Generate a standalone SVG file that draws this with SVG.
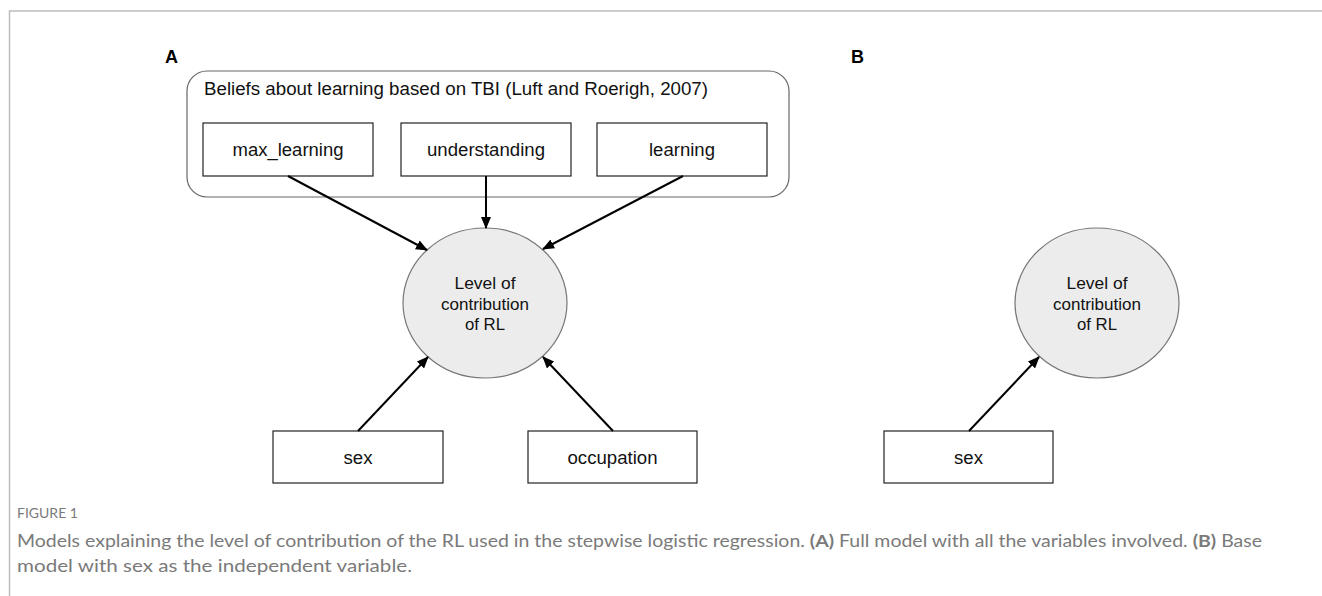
<svg xmlns="http://www.w3.org/2000/svg" width="1322" height="596" viewBox="0 0 1322 596">
<style>
.lbl{font-family:"Liberation Sans",Arial,sans-serif;font-size:17.5px;fill:#111;text-anchor:middle}
.cl{font-family:"Liberation Sans",Arial,sans-serif;font-size:16.5px;fill:#111;text-anchor:middle}
.pl{font-family:"Liberation Sans",Arial,sans-serif;font-size:18px;font-weight:bold;fill:#000}
.box{fill:#fff;stroke:#222;stroke-width:1.2}
.ell{fill:#ececec;stroke:#777;stroke-width:1.2}
.con{stroke:#000;stroke-width:2;fill:none;marker-end:url(#ah)}
.cap{font-family:Lato,"Open Sans",sans-serif;fill:#7a7a7a}
</style>
<defs>
<marker id="ah" markerUnits="userSpaceOnUse" markerWidth="12" markerHeight="10" refX="11" refY="5" orient="auto">
<path d="M0,0 L12,5 L0,10 z" fill="#000"/>
</marker>
</defs>
<rect width="1322" height="596" fill="#fff"/>
<path d="M9.5,596 V11 H1322" fill="none" stroke="#bdbdbd" stroke-width="1.5"/>
<text class="pl" x="165" y="63">A</text>
<text class="pl" x="851" y="63">B</text>
<g id="group-beliefs">
<rect x="187" y="71" width="602" height="126" rx="20" ry="20" fill="#fff" stroke="#666" stroke-width="1.2"/>
<text class="lbl" x="204" y="95" style="text-anchor:start" textLength="504" lengthAdjust="spacingAndGlyphs">Beliefs about learning based on TBI (Luft and Roerigh, 2007)</text>
</g>
<g id="node-max-learning"><rect class="box" x="203" y="123" width="170" height="53"/><text class="lbl" x="288" y="156" textLength="111" lengthAdjust="spacingAndGlyphs">max_learning</text></g>
<g id="node-understanding"><rect class="box" x="401" y="123" width="170" height="53"/><text class="lbl" x="486" y="156" textLength="118" lengthAdjust="spacingAndGlyphs">understanding</text></g>
<g id="node-learning"><rect class="box" x="597" y="123" width="170" height="53"/><text class="lbl" x="682" y="156" textLength="66" lengthAdjust="spacingAndGlyphs">learning</text></g>
<g id="node-level-a"><ellipse class="ell" cx="485" cy="303" rx="82" ry="75"/>
<text class="cl" x="485" y="289" textLength="61" lengthAdjust="spacingAndGlyphs">Level of</text>
<text class="cl" x="485" y="310" textLength="88" lengthAdjust="spacingAndGlyphs">contribution</text>
<text class="cl" x="485" y="330" textLength="40" lengthAdjust="spacingAndGlyphs">of RL</text></g>
<g id="node-sex-a"><rect class="box" x="273" y="431" width="170" height="52"/><text class="lbl" x="358" y="464" textLength="29" lengthAdjust="spacingAndGlyphs">sex</text></g>
<g id="node-occupation"><rect class="box" x="528" y="431" width="169" height="52"/><text class="lbl" x="612.5" y="464" textLength="90" lengthAdjust="spacingAndGlyphs">occupation</text></g>
<g id="node-level-b"><ellipse class="ell" cx="1097" cy="303" rx="82" ry="75"/>
<text class="cl" x="1097" y="289" textLength="61" lengthAdjust="spacingAndGlyphs">Level of</text>
<text class="cl" x="1097" y="310" textLength="88" lengthAdjust="spacingAndGlyphs">contribution</text>
<text class="cl" x="1097" y="330" textLength="40" lengthAdjust="spacingAndGlyphs">of RL</text></g>
<g id="node-sex-b"><rect class="box" x="884" y="431" width="169" height="52"/><text class="lbl" x="968.5" y="464" textLength="29" lengthAdjust="spacingAndGlyphs">sex</text></g>
<g id="connectors">
<line class="con" x1="288" y1="176" x2="427" y2="250"/>
<line class="con" x1="486" y1="176" x2="486" y2="228"/>
<line class="con" x1="683" y1="176" x2="543" y2="249"/>
<line class="con" x1="358" y1="431" x2="428" y2="357"/>
<line class="con" x1="613" y1="431" x2="543" y2="357"/>
<line class="con" x1="969" y1="431" x2="1039" y2="357"/>
</g>
<g id="caption">
<text class="cap" x="17" y="518" font-size="14">FIGURE 1</text>
<text class="cap" x="17" y="547" font-size="17.5" textLength="1245" lengthAdjust="spacingAndGlyphs">Models explaining the level of contribution of the RL used in the stepwise logistic regression. <tspan font-weight="bold">(A)</tspan> Full model with all the variables involved. <tspan font-weight="bold">(B)</tspan> Base</text>
<text class="cap" x="17" y="572" font-size="17.5" textLength="395" lengthAdjust="spacingAndGlyphs">model with sex as the independent variable.</text>
</g>
</svg>
